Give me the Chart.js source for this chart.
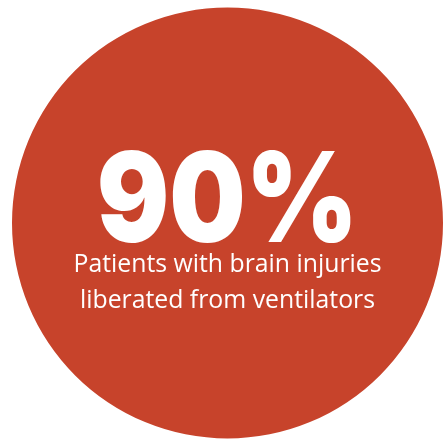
<!DOCTYPE html>
<html>
<head>
<meta charset="utf-8">
<script src="https://cdn.jsdelivr.net/npm/chart.js@4"></script>
<style>
  html, body { margin: 0; padding: 0; background: #ffffff; }
  #wrap { position: relative; width: 443px; height: 440px; overflow: hidden; }
  #chart1 { position: absolute; left: 12px; top: 7px; }
  .txt { position: absolute; left: 0; width: 455px; text-align: center; color: #ffffff; white-space: nowrap; }
  #big { top: 134px; font-family: "Inter", "Lato", sans-serif; font-weight: 900; font-size: 125px; line-height: 125px; letter-spacing: 0px; transform: scaleX(0.86); transform-origin: 227px 50%; }
  #sub1, #sub2 { font-family: "Open Sans", "Lato", sans-serif; font-weight: 400; font-size: 24.8px; line-height: 30px; }
  #sub1 { top: 247px; }
  #sub2 { top: 283px; }
</style>
</head>
<body>
<div id="wrap">
  <canvas id="chart1" width="431" height="432"></canvas>
  <div class="txt" id="big"></div>
  <div class="txt" id="sub1"></div>
  <div class="txt" id="sub2"></div>
</div>
<script>
const labels = ['Patients with brain injuries liberated from ventilators'];
const values = [90];
const headline = '90%';
const captionLines = ['Patients with brain injuries', 'liberated from ventilators'];

document.getElementById('big').textContent = headline;
document.getElementById('sub1').textContent = captionLines[0];
document.getElementById('sub2').textContent = captionLines[1];

var ctx = document.getElementById('chart1').getContext('2d');
new Chart(ctx, {
    type: 'pie',
    data: {
        labels: labels,
        datasets: [{
            data: values,
            backgroundColor: ['#c7432b'],
            borderWidth: 0
        }]
    },
    options: {
        responsive: false,
        animation: false,
        layout: { padding: 0 },
        plugins: {
            legend: { display: false },
            tooltip: { enabled: false }
        }
    }
});
</script>
</body>
</html>
